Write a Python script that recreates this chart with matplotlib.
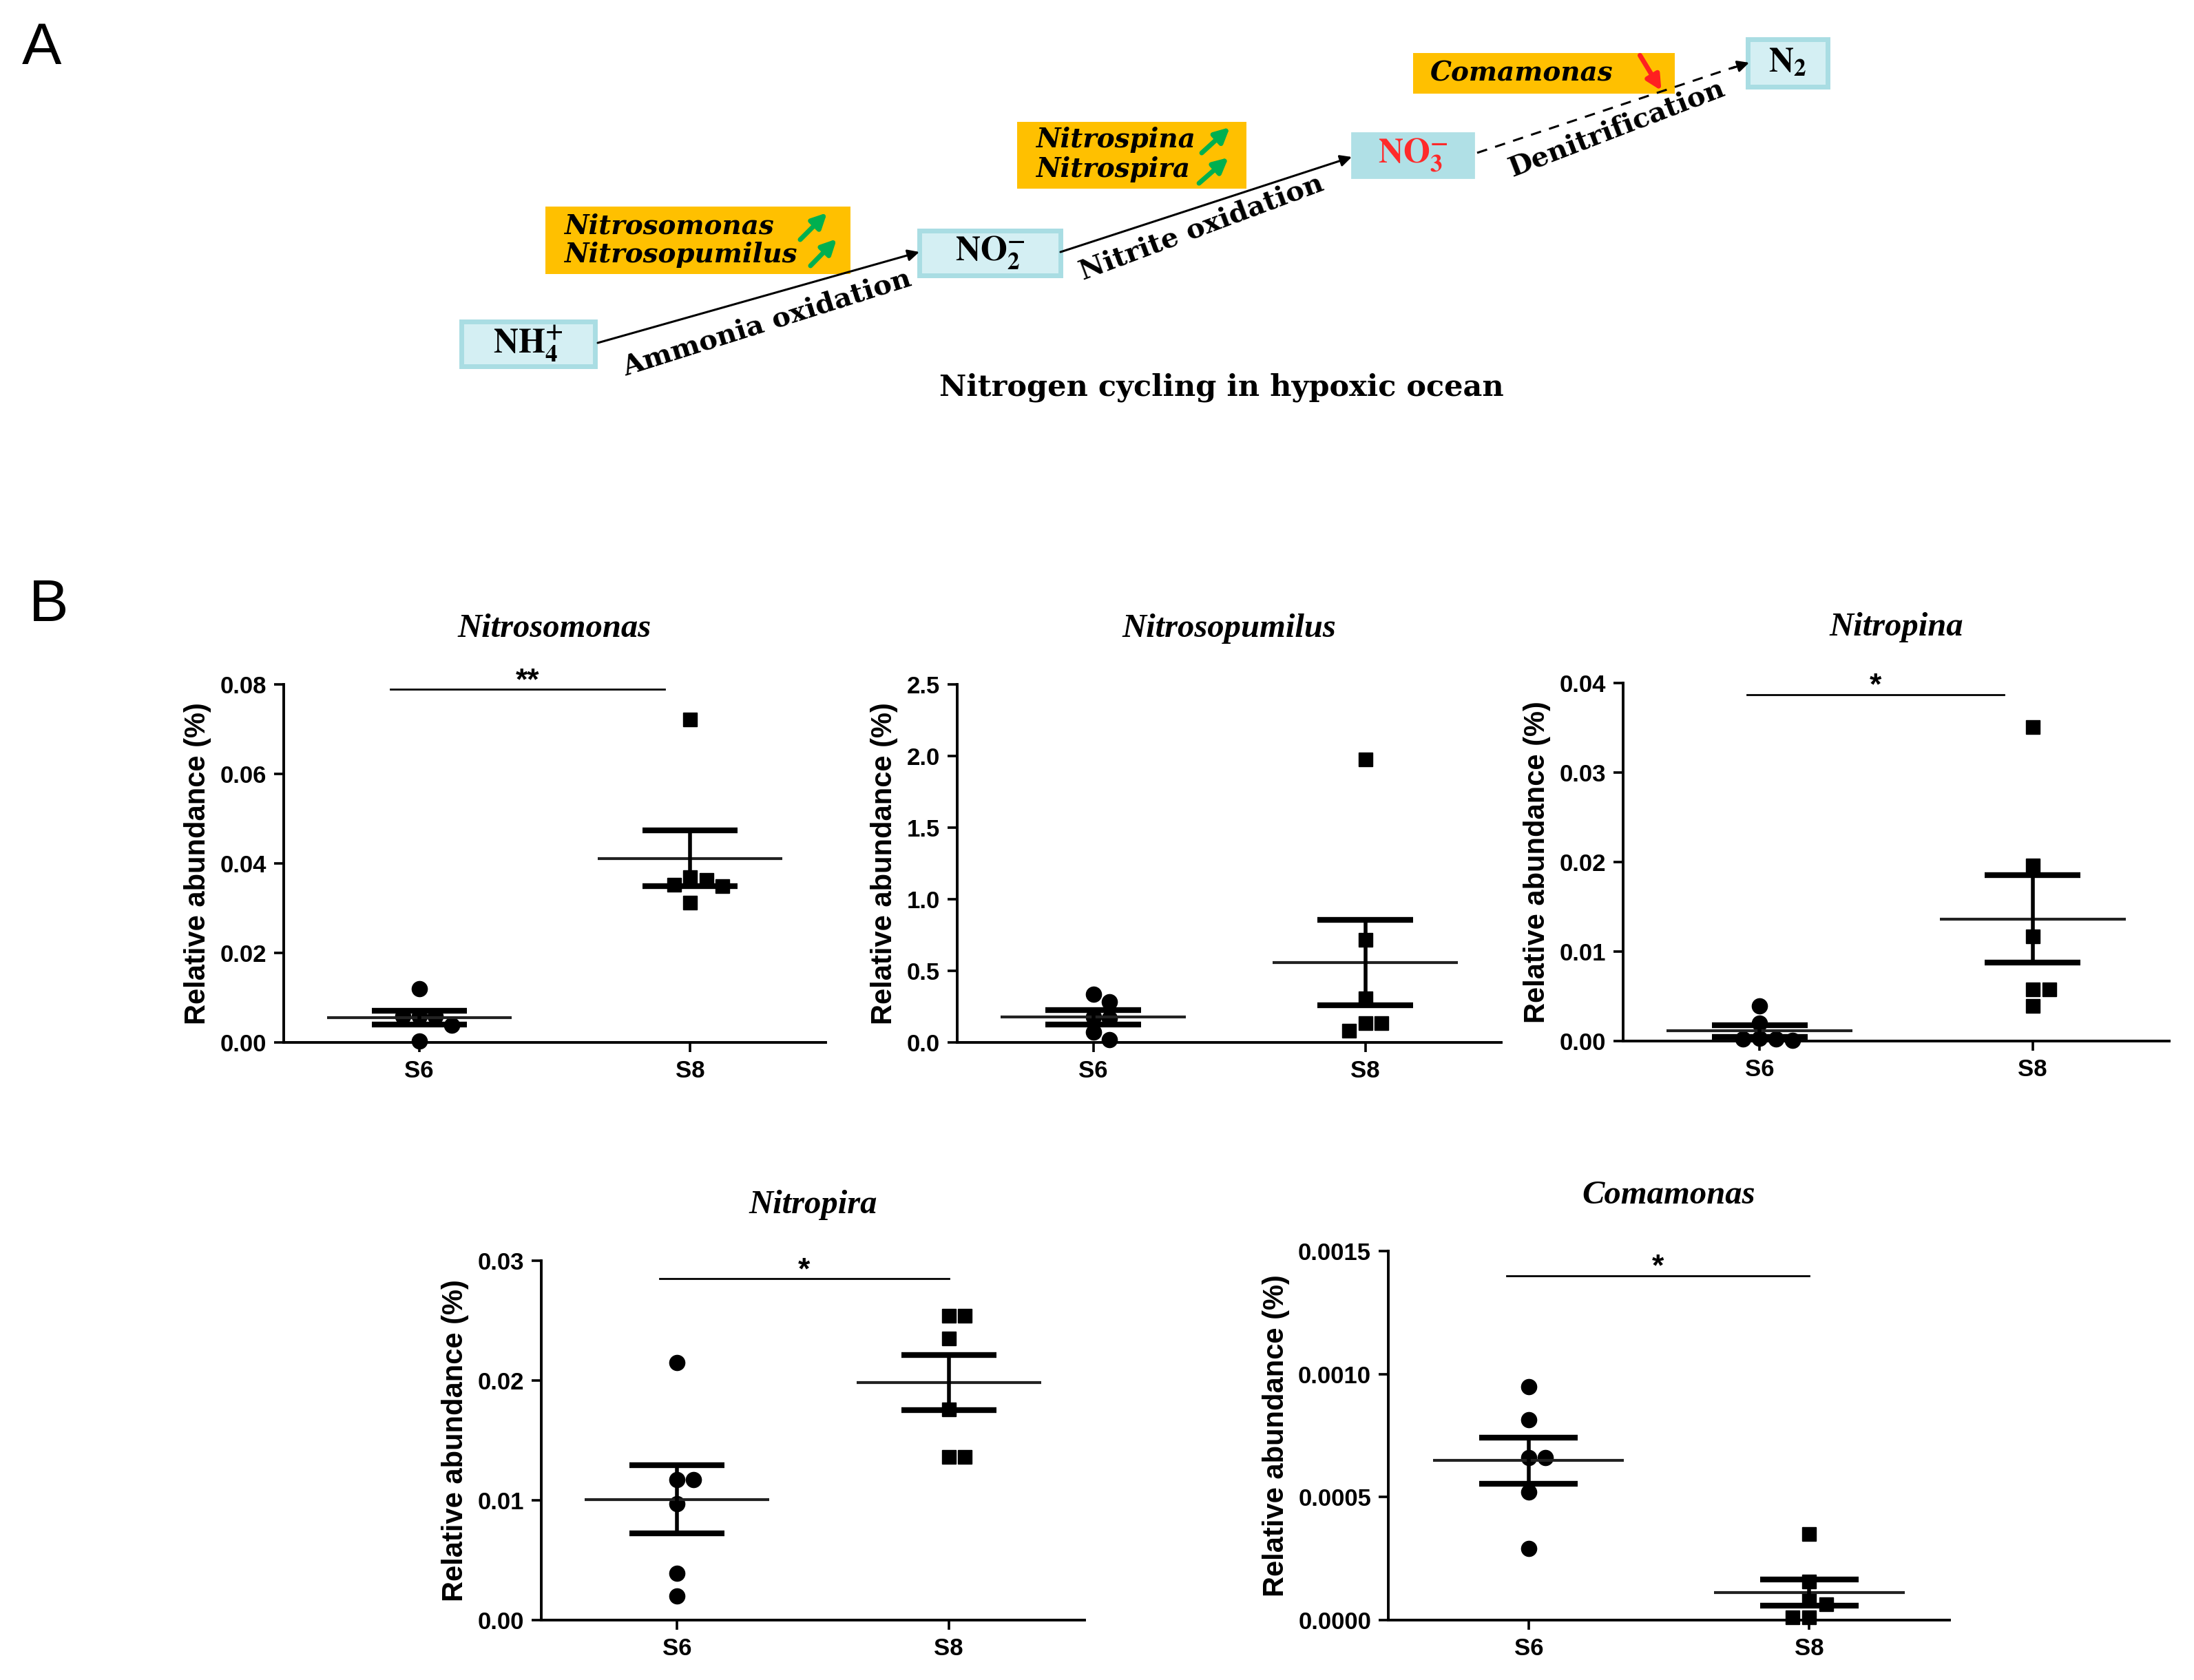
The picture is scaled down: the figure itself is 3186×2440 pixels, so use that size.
import numpy as np
import matplotlib
matplotlib.use('Agg')
import matplotlib.pyplot as plt
from matplotlib.patches import Rectangle

W, H = 3186, 2440
DPI = 100

# ---- panel B data (relative abundance, %) ----
groups = ['S6', 'S8']
titles = ['Nitrosomonas', 'Nitrosopumilus', 'Nitropina', 'Nitropira', 'Comamonas']

nitrosomonas_s6 = [0.0120, 0.0058, 0.0058, 0.0058, 0.0038, 0.0003]
nitrosomonas_s8 = [0.0721, 0.0370, 0.0363, 0.0353, 0.0350, 0.0312]
nitrosopumilus_s6 = [0.335, 0.286, 0.180, 0.170, 0.070, 0.017]
nitrosopumilus_s8 = [1.974, 0.716, 0.308, 0.135, 0.135, 0.082]
nitropina_s6 = [0.0039, 0.0020, 0.0003, 0.0002, 0.0001, 0.0002]
nitropina_s8 = [0.0351, 0.0196, 0.0117, 0.0058, 0.0058, 0.0039]
nitropira_s6 = [0.0215, 0.0117, 0.0117, 0.0097, 0.0039, 0.0020]
nitropira_s8 = [0.0254, 0.0254, 0.0235, 0.0176, 0.0136, 0.0136]
comamonas_s6 = [0.00095, 0.000815, 0.00066, 0.00066, 0.00052, 0.00029]
comamonas_s8 = [0.00035, 0.000156, 0.00008, 0.000063, 0.00001, 0.00001]

s6_data = [nitrosomonas_s6, nitrosopumilus_s6, nitropina_s6, nitropira_s6, comamonas_s6]
s8_data = [nitrosomonas_s8, nitrosopumilus_s8, nitropina_s8, nitropira_s8, comamonas_s8]

y_max = [0.08, 2.5, 0.04, 0.03, 0.0015]
y_step = [0.02, 0.5, 0.01, 0.01, 0.0005]
y_fmt = ['%.2f', '%.1f', '%.2f', '%.2f', '%.4f']
stars = ['**', '', '*', '*', '*']
sig_y = [0.0789, None, 0.0387, 0.0285, 0.0014]
sig_x = [(-0.105, 0.905), None, (-0.045, 0.895), (-0.065, 1.0), (-0.078, 1.0)]

# ---- panel A labels ----
species_up1 = ['Nitrosomonas', 'Nitrosopumilus']
species_up2 = ['Nitrospina', 'Nitrospira']
species_down = ['Comamonas']
steps = ['Ammonia oxidation', 'Nitrite oxidation', 'Denitrification']

# axes rectangles in pixels: left, top, right, bottom
boxes_px = [(412, 994, 1199, 1514), (1390, 994, 2180, 1514), (2357, 992, 3150, 1512),
            (786, 1831, 1575, 2353), (2016, 1817, 2831, 2353)]

SANS = ['Liberation Sans', 'DejaVu Sans']
SERIF = ['Liberation Serif', 'DejaVu Serif']
WIDE_SERIF = ['DejaVu Serif']
plt.rcParams['font.family'] = SANS
plt.rcParams['mathtext.fontset'] = 'stix'


def rect(l, t, r, b):
    return [l / W, 1 - b / H, (r - l) / W, (b - t) / H]


def swarm(vals, ymax, ax_h, xpx, step=0.06, diam=22):
    # simple beeswarm so overlapping points spread sideways
    placed = []
    offs = np.zeros(len(vals))
    for i in np.argsort(vals)[::-1]:
        y = vals[i] / ymax * ax_h
        for k in [0, 1, -1, 2, -2, 3, -3]:
            x = k * step * xpx
            if all(np.hypot(x - px, y - py) >= diam for px, py in placed):
                break
        placed.append((x, y))
        offs[i] = k * step
    return offs


fig = plt.figure(figsize=(W / DPI, H / DPI), dpi=DPI)
bg = fig.add_axes([0, 0, 1, 1])
bg.set_xlim(0, W)
bg.set_ylim(H, 0)
bg.axis('off')

fig.text(61 / W, 1 - 71 / H, 'A', fontsize=62, ha='center', va='center')
fig.text(71 / W, 1 - 880 / H, 'B', fontsize=62, ha='center', va='center')

# ---------------- panel A diagram ----------------
def node(l, t, r, b, label, color='black', solid=False):
    if solid:
        bg.add_patch(Rectangle((l, t), r - l, b - t, facecolor='#b0e0e6', edgecolor='#b0e0e6', lw=2))
    else:
        bg.add_patch(Rectangle((l, t), r - l, b - t, facecolor='#d4eff3', edgecolor='#a9dde3', lw=5))
    bg.text((l + r) / 2, (t + b) / 2, label, fontsize=36, color=color, ha='center', va='center')


node(670, 467, 864, 532, r'$\mathbf{NH}_{\mathbf{4}}^{\mathbf{+}}$')
node(1335, 335, 1540, 400, r'$\mathbf{NO}_{\mathbf{2}}^{\mathbf{-}}$')
node(1963, 193, 2140, 258, r'$\mathbf{NO}_{\mathbf{3}}^{\mathbf{-}}$', color='#ff2a2a', solid=True)
node(2538, 57, 2654, 126, r'$\mathbf{N}_{\mathbf{2}}$')

yellow = '#ffc000'
bg.add_patch(Rectangle((792, 300), 443, 98, facecolor=yellow, edgecolor='none'))
bg.add_patch(Rectangle((1477, 177), 333, 97, facecolor=yellow, edgecolor='none'))
bg.add_patch(Rectangle((2052, 77), 380, 59, facecolor=yellow, edgecolor='none'))

sp_font = dict(family=WIDE_SERIF, fontsize=28, fontweight='bold', fontstyle='italic',
               va='center', ha='left')
bg.text(819, 329, species_up1[0], **sp_font)
bg.text(819, 370, species_up1[1], **sp_font)
bg.text(1504, 203, species_up2[0], **sp_font)
bg.text(1504, 246, species_up2[1], **sp_font)
bg.text(2077, 106, species_down[0], **sp_font)

green = dict(arrowstyle='-|>', color='#00b050', lw=5, mutation_scale=32)
for (x0, y0, x1, y1) in [(1160, 350, 1203, 307), (1175, 388, 1217, 345),
                         (1743, 224, 1788, 183), (1739, 268, 1786, 227)]:
    bg.annotate('', xy=(x1, y1), xytext=(x0, y0), arrowprops=green)
bg.annotate('', xy=(2414, 134), xytext=(2380, 78),
            arrowprops=dict(arrowstyle='-|>', color='#ff2020', lw=5, mutation_scale=32))

blk = dict(arrowstyle='-|>', color='black', lw=2.2, mutation_scale=25, shrinkA=0, shrinkB=0)
bg.annotate('', xy=(1335, 366), xytext=(868, 498), arrowprops=blk)
bg.annotate('', xy=(1963, 228), xytext=(1540, 366), arrowprops=blk)
bg.plot([2145, 2520], [222, 97], color='black', lw=2.2, dashes=(5, 4))
bg.annotate('', xy=(2540, 91), xytext=(2515, 99), arrowprops=blk)

step_font = dict(family=WIDE_SERIF, fontsize=29, fontweight='bold', ha='center', va='center',
                 rotation_mode='anchor')
bg.text(1114, 469, steps[0], rotation=17.5, **step_font)
bg.text(1745, 331, steps[1], rotation=20.5, **step_font)
bg.text(2347, 187, steps[2], rotation=21, **step_font)
bg.text(1774, 563, 'Nitrogen cycling in hypoxic ocean', family=WIDE_SERIF, fontsize=31,
        fontweight='bold', ha='center', va='center')

# ---------------- panel B scatter plots ----------------
for p in range(5):
    l, t, r, b = boxes_px[p]
    ax = fig.add_axes(rect(l, t, r, b))
    ax_h = b - t
    xpx = (r - l) / 2.0
    ymax = y_max[p]

    for gi, vals in enumerate([s6_data[p], s8_data[p]]):
        vals = np.array(vals)
        offs = swarm(vals, ymax, ax_h, xpx)
        ax.plot(gi + offs, vals, ls='none', marker='o' if gi == 0 else 's',
                ms=16 if gi == 0 else 15, color='black', clip_on=False, zorder=3)
        m = vals.mean()
        se = vals.std(ddof=1) / np.sqrt(len(vals))
        ax.hlines(m, gi - 0.34, gi + 0.34, color='#222222', lw=3, zorder=4)
        ax.hlines([m - se, m + se], gi - 0.175, gi + 0.175, color='black', lw=6, zorder=4)
        ax.vlines(gi, m - se, m + se, color='black', lw=4, zorder=4)

    ax.set_xlim(-0.5, 1.5)
    ax.set_ylim(0, ymax)
    ax.set_xticks([0, 1])
    ax.set_xticklabels(groups)
    ticks = np.arange(0, ymax + y_step[p] / 2, y_step[p])
    ax.set_yticks(ticks)
    ax.set_yticklabels([y_fmt[p] % v for v in ticks])
    for sp in ['top', 'right']:
        ax.spines[sp].set_visible(False)
    for sp in ['left', 'bottom']:
        ax.spines[sp].set_linewidth(2.8)
    ax.tick_params(direction='out', length=10, width=2.6, labelsize=25, pad=8)
    for lab in ax.get_xticklabels() + ax.get_yticklabels():
        lab.set_fontweight('bold')
    ax.set_ylabel('Relative abundance (%)', fontsize=30, fontweight='bold', labelpad=9)
    ax.set_title(titles[p], family=SERIF, fontsize=35, fontweight='bold',
                 fontstyle='italic', pad=50)
    ax.patch.set_alpha(0)

    if sig_y[p] is not None:
        x0, x1 = sig_x[p]
        ax.plot([x0, x1], [sig_y[p], sig_y[p]], color='black', lw=2, clip_on=False)
        ax.text((x0 + x1) / 2, sig_y[p], stars[p], fontsize=32, fontweight='bold',
                ha='center', va='baseline', clip_on=False)

fig.savefig('out.png', dpi=DPI)
